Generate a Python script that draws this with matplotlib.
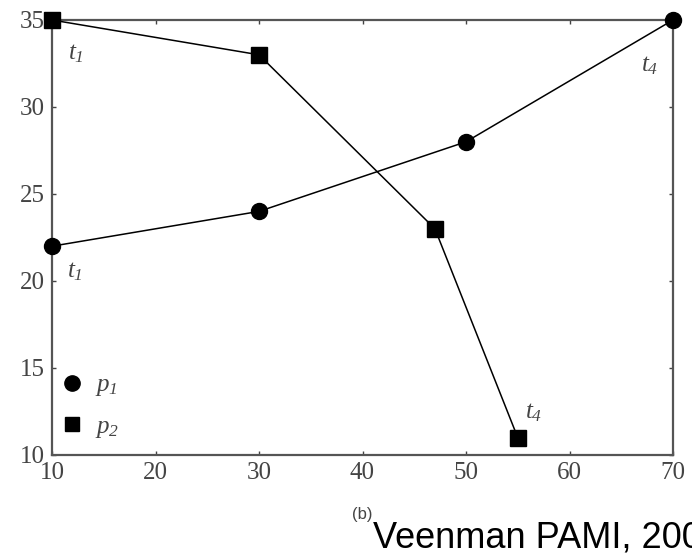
import matplotlib.pyplot as plt
from matplotlib.lines import Line2D

# Data ----
p1_x = [10, 30, 50, 70]
p1_y = [22, 24, 28, 35]
p2_x = [10, 30, 47, 55]
p2_y = [35, 33, 23, 11]

x_ticks = [10, 20, 30, 40, 50, 60, 70]
y_ticks = [10, 15, 20, 25, 30, 35]

# Times-like italic math text; 'sf' is used for italic digits in subscripts
plt.rcParams['mathtext.fontset'] = 'custom'
plt.rcParams['mathtext.rm'] = 'Liberation Serif'
plt.rcParams['mathtext.it'] = 'Liberation Serif:italic'
plt.rcParams['mathtext.sf'] = 'Liberation Serif:italic'
serif = 'Liberation Serif'

fig = plt.figure(figsize=(6.92, 5.54), dpi=100)
ax = fig.add_axes([52 / 692, 99 / 554, 621 / 692, 435 / 554])

ax.plot(p1_x, p1_y, color='black', lw=1.1, marker='o', ms=11.5, zorder=3, clip_on=False)
ax.plot(p2_x, p2_y, color='black', lw=1.1, marker='s', ms=11, zorder=3, clip_on=False)

ax.set_xlim(10, 70)
ax.set_ylim(10, 35)
ax.set_xticks(x_ticks)
ax.set_yticks(y_ticks)
ax.tick_params(direction='in', length=3, width=1, color='#444444',
               top=True, right=True, labelsize=18, pad=5)
for lab in ax.get_xticklabels() + ax.get_yticklabels():
    lab.set_fontfamily(serif)
    lab.set_color('#444444')
for sp in ax.spines.values():
    sp.set_linewidth(1.6)
    sp.set_color('#555555')

# Point labels (start / end of each track)
lab_kw = dict(textcoords='offset pixels', ha='center', va='center', fontsize=18, color='#444444')
ax.annotate(r'$t_{\mathsf{1}}$', (p2_x[0], p2_y[0]), xytext=(24, -33), **lab_kw)
ax.annotate(r'$t_{\mathsf{1}}$', (p1_x[0], p1_y[0]), xytext=(23, -25), **lab_kw)
ax.annotate(r'$t_{\mathsf{4}}$', (p1_x[-1], p1_y[-1]), xytext=(-23, -45), **lab_kw)
ax.annotate(r'$t_{\mathsf{4}}$', (p2_x[-1], p2_y[-1]), xytext=(16, 26), **lab_kw)

handles = [Line2D([], [], color='black', marker='o', ls='none', ms=11),
           Line2D([], [], color='black', marker='s', ls='none', ms=10)]
leg = ax.legend(handles, [r'$p_{\mathsf{1}}$', r'$p_{\mathsf{2}}$'], loc='lower left',
                bbox_to_anchor=(-0.012, 0.0), frameon=False, fontsize=18,
                handlelength=1.0, handletextpad=0.4, labelspacing=0.62, borderaxespad=0.2)
for t in leg.get_texts():
    t.set_color('#444444')

fig.text(352 / 692, 1 - 515 / 554, '(b)', fontsize=12, family='Liberation Sans',
         color='#444444', va='center')
# the reference crops this caption at the right edge
fig.text(373 / 692, 1 - 548 / 554, 'Veenman PAMI, 2001', fontsize=26,
         family='Liberation Sans', va='baseline')

fig.savefig('out.png', dpi=100)
